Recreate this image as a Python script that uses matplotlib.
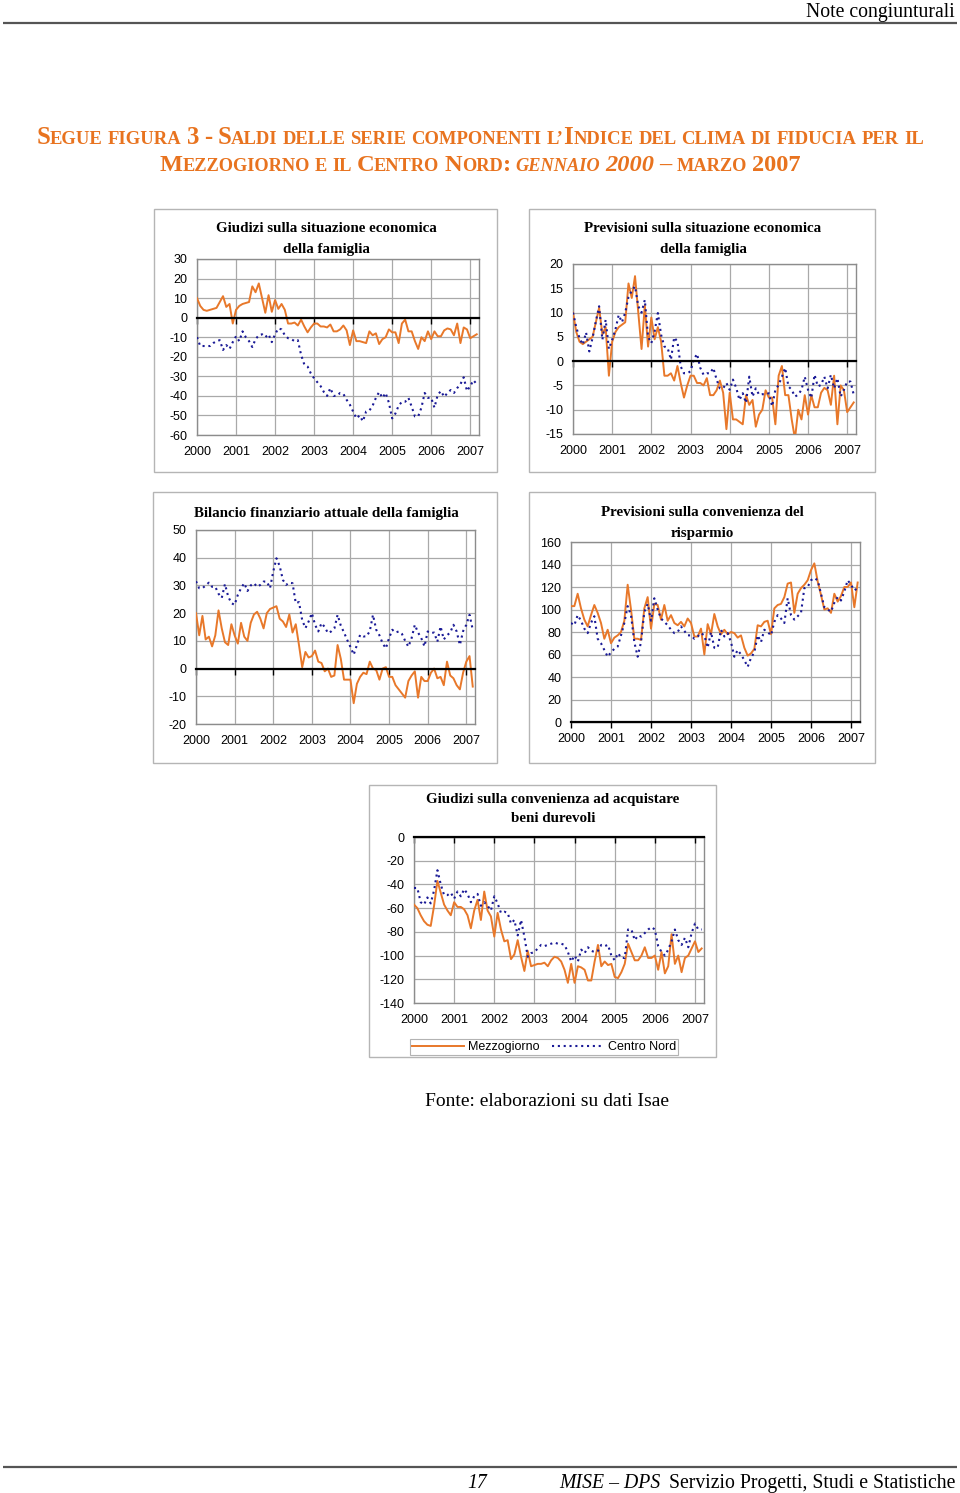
import numpy as np
import matplotlib
matplotlib.use("Agg")
import matplotlib.pyplot as plt
from matplotlib.patches import Rectangle

plt.rcParams["axes.unicode_minus"] = False
SANS = "Liberation Sans"
SERIF = "Liberation Serif"

W, H = 960, 1493
ORANGE = "#E8782A"
BLUE = "#1A1A96"
GRID = "#a9a9a9"
TITLE_COL = "#E8731F"

years = [2000, 2001, 2002, 2003, 2004, 2005, 2006, 2007]
months = np.arange(87)  # gennaio 2000 - marzo 2007

# Giudizi sulla situazione economica della famiglia
giud_mezz = [10, 6, 4, 3.5, 4, 4.5, 5, 8, 11, 5.5, 7, -3,
             4, 6, 7, 7.5, 8, 16, 13, 17.5, 10, 2.5, 11.5, 3,
             9, 4.5, 7, 4, -3, -3, -2.5, -4, -1, -4.5, -7.5, -5,
             -3, -3, -4.5, -4.5, -5, -3.5, -7, -7, -6, -4, -6.5, -14,
             -6.5, -12, -12, -12.5, -13, -7, -9, -8, -13.5, -11, -10, -6,
             -7.5, -7.5, -13, -3, -1, -7, -7, -12, -16, -10, -12, -7,
             -11, -7, -9.5, -9.5, -6.5, -5.5, -6, -9, -3, -13, -5, -6,
             -10.5, -9.5, -8.5]
giud_cn = [-10, -14.5, -14.5, -14.5, -14.5, -13, -12, -11.5, -16.5, -14, -16, -12.5,
           -9.5, -12, -7, -10, -12, -15, -11, -9, -8.5, -10, -8.5, -12.5,
           -8.5, -5.5, -6, -9, -10.5, -11, -12, -11.5, -19, -24, -25, -28.5,
           -31, -33, -35, -38, -40, -36, -40, -40, -38.5, -39, -42, -44.5,
           -48, -51.5, -50, -53, -48, -47.5, -45, -41, -38, -41, -38.5, -43.5,
           -51.5, -49, -45, -43, -43, -41, -45.5, -50.5, -50.5, -46, -38.5, -41,
           -41, -46, -39.5, -37.5, -40.5, -38.5, -37, -38.5, -36, -34, -30.5, -37.5,
           -35, -32, -34]

# Previsioni sulla situazione economica della famiglia
# (nel grafico originale la serie Mezzogiorno coincide con quella dei giudizi)
prev_mezz = list(giud_mezz)
prev_cn = [10, 7, 4.7, 3.4, 5.9, 2, 4.8, 8.2, 11.3, 4.4, 8.5, 2.5,
           4.4, 6.5, 9.5, 8, 10, 13.2, 14.5, 15.4, 11.3, 10, 12.6, 5,
           3.7, 6.1, 9.9, 5.4, 3, 2.7, 0.3, 4.9, 4, -1.1, -2.5, -2.5,
           -2.1, 0.3, 1.5, -1.4, -2.8, -2.5, -2.5, -1.4, -3.8, -5.6, -5.6, -4.5,
           -5.9, -3.8, -5.5, -8, -6.6, -8.6, -3.2, -7.3, -5.6, -6.9, -6.8, -6.9,
           -6.6, -9.3, -5.9, -4.9, -3.2, -1.4, -5.2, -5.9, -7.3, -6.9, -5.9, -3.2,
           -5.9, -7.6, -2.8, -5.2, -4.9, -3.2, -5.6, -2.8, -5.6, -3.5, -7.3, -5.9,
           -4.2, -4.2, -6.9]

# Bilancio finanziario attuale della famiglia
bil_mezz = [20, 12, 19, 10.5, 11.5, 8, 12, 21, 14.5, 9.5, 8.5, 16,
            12, 9, 16.5, 11.5, 10, 16.5, 19.5, 20.5, 18, 14.5, 20, 21.5,
            22, 22.5, 18, 17, 15, 19.5, 13, 16, 8.5, 0.5, 6, 4,
            4.5, 6.5, 2.5, 2, -1, 0, -3, -2.5, 8.5, 3.5, -4, -4,
            -4, -12.5, -5.5, -3, -1.5, -2, 2.5, 0, -0.5, -4, 0, 0.5,
            -3, -3, -6, -7.5, -9, -10.5, -4.5, -2.5, -1, -10.5, -3, -4.5,
            -4.5, -1.5, 0, -3.5, -3, -6, 2.5, -2.5, -3.5, -6, -7.5, -1.5,
            2.5, 4.5, -6.5]
bil_cn = [31.5, 29, 29, 30, 31, 29.5, 29.5, 27, 25.5, 30.5, 26, 23.6,
          23, 26.6, 29, 30.8, 28, 30, 30.8, 29.5, 30.2, 31.4, 31.4, 29,
          35, 39.8, 37, 32, 30.2, 31, 30.8, 23.6, 24, 17.5, 14.6, 17,
          20, 15.8, 13.4, 16.4, 15, 12.8, 13.4, 14.5, 19.4, 15.5, 13, 10.3,
          7.8, 5, 8.5, 12.2, 11.6, 11.6, 13.5, 19.4, 14, 12, 9.1, 7.3,
          11, 14, 13, 13.4, 12.5, 10, 7.9, 11, 15.8, 13, 11, 8,
          13.4, 12.8, 13, 9.7, 15.2, 10.5, 12, 13, 15.8, 13.4, 8.5, 13.5,
          15.8, 19.4, 14]

# Previsioni sulla convenienza del risparmio
risp_mezz = [103, 103, 114, 101, 91, 85, 95, 104, 97, 88, 74, 82,
             70, 75, 77, 80, 90, 122, 100, 74, 74, 73, 101, 111,
             83, 105, 104, 91, 104, 90, 95, 88, 86, 89, 85, 92,
             88, 76, 76, 83, 60, 87, 78, 96, 85, 78, 82, 78,
             80, 79, 75, 77, 66, 59, 61, 65, 86, 85, 89, 90,
             78, 101, 104, 105, 111, 123, 124, 97, 114, 119, 122, 126,
             135, 141, 125, 113, 100, 101, 97, 114, 107, 112, 120, 120,
             124, 102, 124]
risp_cn = [88, 86, 95, 90, 83, 79, 88, 94, 74, 70, 64, 58,
           62, 65, 67, 77, 88, 103, 95, 71, 58, 71, 98, 105,
           90, 110, 100, 92, 89, 86, 82, 79, 80, 85, 81, 77,
           77, 74, 76, 79, 77, 66, 80, 66, 66, 82, 76, 79,
           71, 58, 64, 60, 55, 49, 57, 62, 77, 71, 82, 80,
           77, 89, 95, 92, 88, 110, 95, 91, 94, 97, 119, 120,
           126, 128, 126, 114, 102, 100, 98, 106, 111, 108, 116, 126,
           122, 117, 119]

# Giudizi sulla convenienza ad acquistare beni durevoli
dur_mezz = [-57, -60, -66, -71, -74, -75, -58, -37, -47, -57, -62, -66,
            -55, -59, -59, -61, -66, -77, -62, -53, -70, -46, -62, -67,
            -84, -64, -78, -88, -87, -103, -99, -87, -101, -113, -96, -109,
            -108, -107, -107, -106, -109, -104, -101, -102, -105, -112, -123, -107,
            -123, -109, -110, -112, -121, -121, -105, -91, -109, -105, -108, -107,
            -118, -119, -114, -107, -90, -97, -104, -104, -100, -93, -102, -102,
            -100, -112, -97, -115, -109, -82, -107, -100, -114, -102, -100, -94,
            -88, -97, -94]
dur_cn = [-43, -43, -55, -57, -51, -56, -45, -28, -40, -49, -49, -47,
          -52, -46, -50, -44, -48, -55, -50, -48, -58, -55, -58, -62,
          -50, -56, -64, -63, -64, -73, -70, -83, -70, -84, -101, -98,
          -97, -94, -91, -92, -91, -90, -89, -90, -90, -91, -97, -105,
          -100, -105, -95, -98, -93, -96, -97, -96, -91, -92, -91, -100,
          -104, -98, -102, -102, -78, -78, -87, -83, -84, -81, -78, -76,
          -78, -92, -97, -100, -95, -88, -78, -87, -91, -85, -93, -81,
          -73, -78, -78]

fig = plt.figure(figsize=(W / 100, H / 100), dpi=100)
bg = fig.add_axes([0, 0, 1, 1])
bg.set_xlim(0, W)
bg.set_ylim(H, 0)
bg.axis("off")


def add_panel(frame, plot, title_lines, title_cx, title_y, ylim, step, mz, cn):
    fx0, fy0, fx1, fy1 = frame
    bg.add_patch(Rectangle((fx0, fy0), fx1 - fx0, fy1 - fy0, fill=False,
                           ec="#b5b5b5", lw=1.0))
    for k, line in enumerate(title_lines):
        bg.text(title_cx, title_y + 20 * k, line, ha="center", va="center",
                family=SERIF, fontweight="bold", fontsize=10.8)

    x0, y0, x1, y1 = plot
    ax = fig.add_axes([x0 / W, 1 - y1 / H, (x1 - x0) / W, (y1 - y0) / H])
    l1, = ax.plot(months, mz, color=ORANGE, lw=1.4, zorder=3)
    l2, = ax.plot(months, cn, color=BLUE, lw=1.5, ls=(0, (1.0, 1.8)), zorder=3)
    ax.set_xlim(0, 86.7)
    ax.set_ylim(*ylim)
    ax.set_yticks(np.arange(ylim[0], ylim[1] + step / 2, step))
    ax.set_xticks([12 * k for k in range(8)])
    ax.set_axisbelow(True)
    ax.grid(True, color=GRID, lw=0.9)

    # asse delle x nero sullo zero, con le tacche degli anni
    ax.spines["bottom"].set_position(("data", 0))
    ax.spines["bottom"].set_color("black")
    ax.spines["bottom"].set_linewidth(1.6)
    ax.spines["bottom"].set_zorder(4)
    ax.tick_params(axis="x", direction="out", length=4, width=1, color="black",
                   labelbottom=False)
    for s in ["top", "left", "right"]:
        ax.spines[s].set_color("#8c8c8c")
        ax.spines[s].set_linewidth(1.0)
    ax.tick_params(axis="y", length=0, pad=7, labelsize=9)
    for lab in ax.get_yticklabels():
        lab.set_family(SANS)

    sec = ax.secondary_xaxis(0.0)
    sec.set_xticks([12 * k for k in range(8)], [str(y) for y in years])
    sec.tick_params(length=0, pad=8, labelsize=9)
    for lab in sec.get_xticklabels():
        lab.set_family(SANS)
    sec.spines["bottom"].set_color("#8c8c8c")
    sec.spines["bottom"].set_linewidth(1.0)
    return ax, l1, l2


add_panel((154, 209, 497, 472), (197, 259, 479, 435),
          ["Giudizi sulla situazione economica", "della famiglia"], 326, 229,
          (-60, 30), 10, giud_mezz, giud_cn)
add_panel((529, 209, 875, 472), (573, 264, 856, 434),
          ["Previsioni sulla situazione economica", "della famiglia"], 703, 229,
          (-15, 20), 5, prev_mezz, prev_cn)
add_panel((153, 492, 497, 763), (196, 530, 475, 724),
          ["Bilancio finanziario attuale della famiglia"], 326, 513,
          (-20, 50), 10, bil_mezz, bil_cn)
add_panel((529, 492, 875, 763), (571, 542, 860, 722),
          ["Previsioni sulla convenienza del", "risparmio"], 702, 513,
          (0, 160), 20, risp_mezz, risp_cn)
ax5, h1, h2 = add_panel((369, 785, 716, 1057), (414, 837, 704, 1003),
                        ["Giudizi sulla convenienza ad acquistare", "beni durevoli"],
                        553, 799, (-140, 0), 20, dur_mezz, dur_cn)

leg = ax5.legend([h1, h2], ["Mezzogiorno", "Centro Nord"], loc="center",
                 bbox_to_anchor=(544 / W, 1 - 1047 / H), bbox_transform=fig.transFigure,
                 ncol=2, frameon=True, fancybox=False, edgecolor="#a0a0a0",
                 prop={"family": SANS, "size": 9}, handlelength=4.2,
                 handletextpad=0.3, columnspacing=1.0, borderpad=0.15)
leg.get_frame().set_linewidth(0.8)

# intestazione e piede di pagina
bg.text(955, 17, "Note congiunturali", ha="right", va="baseline", family=SERIF,
        fontsize=14.2)
bg.hlines(22.5, 3, 957, color="#555555", lw=1.6)
bg.hlines(1467, 3, 957, color="#555555", lw=1.6)
bg.text(467, 1488, "17", ha="left", va="baseline", family=SERIF, style="italic",
        fontsize=14.2)
bg.text(559, 1488, "MISE – DPS", ha="left", va="baseline", family=SERIF,
        style="italic", fontsize=14.2)
bg.text(955, 1488, "Servizio Progetti, Studi e Statistiche", ha="right",
        va="baseline", family=SERIF, fontsize=14.2)
bg.text(547, 1102, "Fonte: elaborazioni su dati Isae", ha="center", va="center",
        family=SERIF, fontsize=14)

# titolo in maiuscoletto
line1 = [("S", 1, 0), ("EGUE", 0, 0), (" ", 0, 0), ("FIGURA", 0, 0), (" ", 0, 0),
         ("3", 1, 0), (" ", 0, 0), ("-", 1, 0), (" ", 0, 0), ("S", 1, 0),
         ("ALDI", 0, 0), (" ", 0, 0), ("DELLE", 0, 0), (" ", 0, 0), ("SERIE", 0, 0),
         (" ", 0, 0), ("COMPONENTI", 0, 0), (" ", 0, 0), ("L’", 0, 0), ("I", 1, 0),
         ("NDICE", 0, 0), (" ", 0, 0), ("DEL", 0, 0), (" ", 0, 0), ("CLIMA", 0, 0),
         (" ", 0, 0), ("DI", 0, 0), (" ", 0, 0), ("FIDUCIA", 0, 0), (" ", 0, 0),
         ("PER", 0, 0), (" ", 0, 0), ("IL", 0, 0)]
line2 = [("M", 1, 0), ("EZZOGIORNO", 0, 0), (" ", 0, 0), ("E", 0, 0), (" ", 0, 0),
         ("IL", 0, 0), (" ", 0, 0), ("C", 1, 0), ("ENTRO", 0, 0), (" ", 0, 0),
         ("N", 1, 0), ("ORD", 0, 0), (":", 1, 0), (" ", 0, 0), ("GENNAIO", 0, 1),
         (" ", 0, 0), ("2000", 1, 1), (" ", 0, 0), ("–", 1, 0), (" ", 0, 0),
         ("MARZO", 0, 0), (" ", 0, 0), ("2007", 1, 0)]

renderer = fig.canvas.get_renderer()


def build_runs(runs, y, scale):
    items = []
    for txt, big, it in runs:
        size = (16.0 if big else 12.0) * scale
        if txt == " ":
            items.append((None, size * 0.27 * 100 / 72))
            continue
        t = bg.text(0, y, txt, fontsize=size, fontweight="bold",
                    style="italic" if it else "normal", family=SERIF,
                    color=TITLE_COL, ha="left", va="baseline")
        items.append((t, t.get_window_extent(renderer).width))
    return items


def place_runs(items, cx):
    total = sum(w for _, w in items)
    x = cx - total / 2
    for t, w in items:
        if t is not None:
            t.set_x(x)
        x += w


probe = build_runs(line1, 144, 1.0)
scale = 883 / sum(w for _, w in probe)
for t, _ in probe:
    if t is not None:
        t.remove()
place_runs(build_runs(line1, 144, scale), 480)
place_runs(build_runs(line2, 171, scale * 0.985), 480)

fig.savefig("out.png", dpi=100)
